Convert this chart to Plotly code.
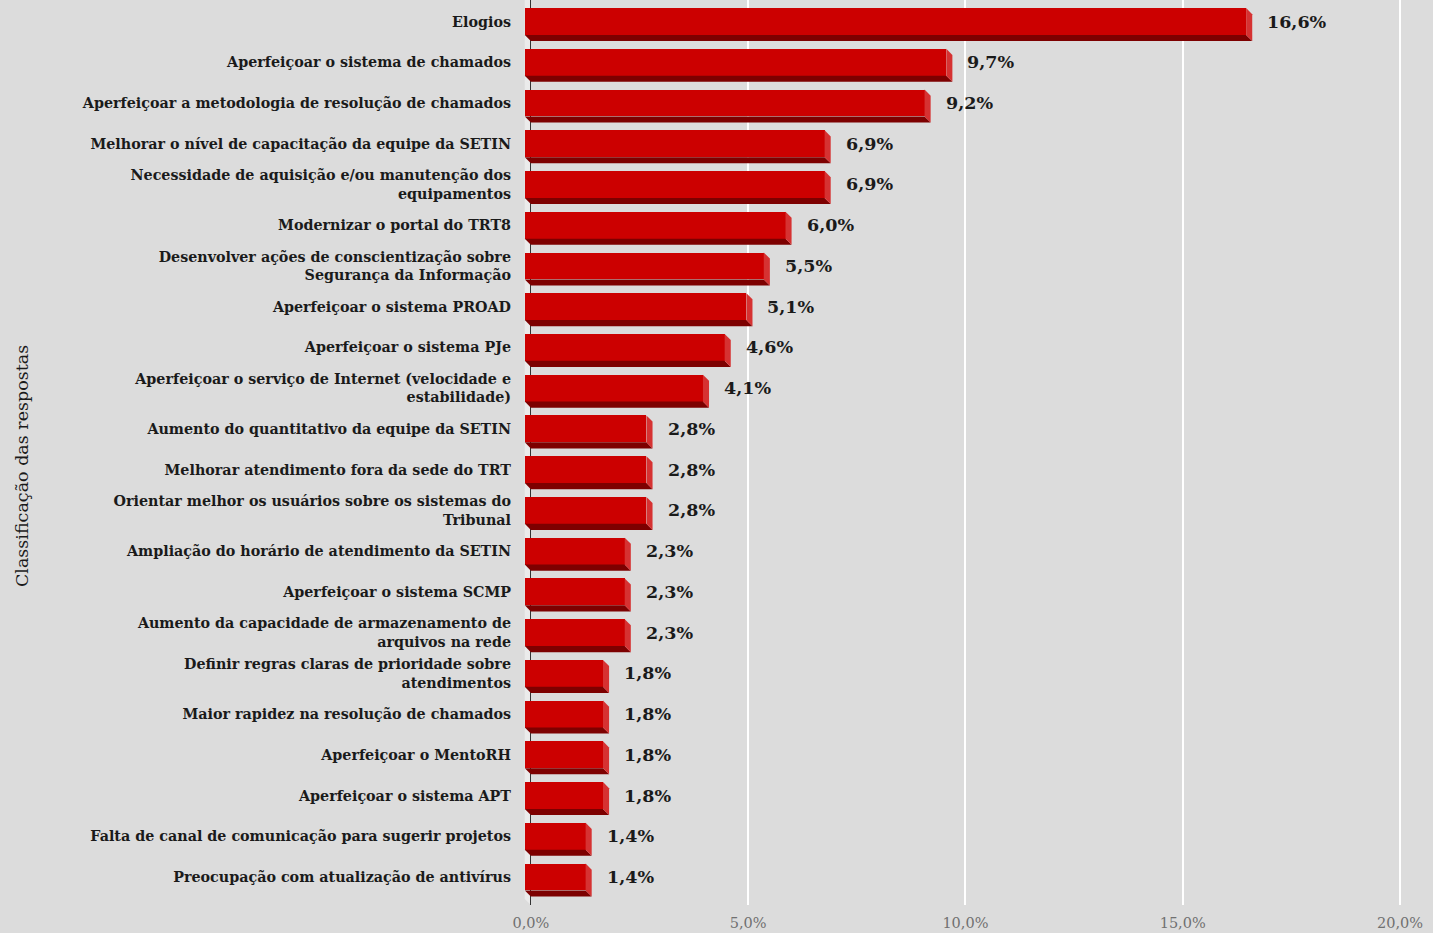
import plotly.graph_objects as go

# Response categories (top to bottom) and their share of responses (%)
categories = [
    "Elogios",
    "Aperfeiçoar o sistema de chamados",
    "Aperfeiçoar a metodologia de resolução de chamados",
    "Melhorar o nível de capacitação da equipe da SETIN",
    "Necessidade de aquisição e/ou manutenção dos<br>equipamentos",
    "Modernizar o portal do TRT8",
    "Desenvolver ações de conscientização sobre<br>Segurança da Informação",
    "Aperfeiçoar o sistema PROAD",
    "Aperfeiçoar o sistema PJe",
    "Aperfeiçoar o serviço de Internet (velocidade e<br>estabilidade)",
    "Aumento do quantitativo da equipe da SETIN",
    "Melhorar atendimento fora da sede do TRT",
    "Orientar melhor os usuários sobre os sistemas do<br>Tribunal",
    "Ampliação do horário de atendimento da SETIN",
    "Aperfeiçoar o sistema SCMP",
    "Aumento da capacidade de armazenamento de<br>arquivos na rede",
    "Definir regras claras de prioridade sobre<br>atendimentos",
    "Maior rapidez na resolução de chamados",
    "Aperfeiçoar o MentoRH",
    "Aperfeiçoar o sistema APT",
    "Falta de canal de comunicação para sugerir projetos",
    "Preocupação com atualização de antivírus",
]
values = [16.6, 9.7, 9.2, 6.9, 6.9, 6.0, 5.5, 5.1, 4.6, 4.1, 2.8, 2.8, 2.8,
          2.3, 2.3, 2.3, 1.8, 1.8, 1.8, 1.8, 1.4, 1.4]
x_ticks = [0, 5, 10, 15, 20]
x_tick_text = ["0,0%", "5,0%", "10,0%", "15,0%", "20,0%"]

FRONT = "#cc0000"
BOTTOM = "#7d0000"
SIDE = "#d63232"
BG = "#dcdcdc"
WALL = "#ebebeb"
TEXT = "#1a1a1a"
SERIF = "DejaVu Serif"

# 3D extrusion depth in data units
DX = 0.14   # along x (percent)
DY = 0.15   # along y (category units)
H = 0.66    # bar thickness

idx = list(range(len(values)))
y_top, y_bot = -0.528, 21.687

fig = go.Figure()
fig.add_trace(go.Bar(
    orientation="h",
    y=idx,
    x=values,
    base=[-DX] * len(values),
    width=H,
    marker=dict(color=FRONT, line=dict(width=0)),
    hoverinfo="skip",
))

shapes = []
# left wall of the 3D frame
shapes.append(dict(
    type="path", xref="x", yref="y", layer="below",
    path=f"M {-DX} {y_top} L 0 {y_top} L 0 {y_bot} L {-DX} {y_bot - DY} Z",
    fillcolor=WALL, line=dict(width=0),
))
for i, v in zip(idx, values):
    top, bot = i - H / 2, i + H / 2
    # bottom face
    shapes.append(dict(
        type="path", xref="x", yref="y",
        path=f"M {-DX} {bot} L {v - DX} {bot} L {v} {bot + DY} L 0 {bot + DY} Z",
        fillcolor=BOTTOM, line=dict(width=0),
    ))
    # right face
    shapes.append(dict(
        type="path", xref="x", yref="y",
        path=f"M {v - DX} {top} L {v} {top + DY} L {v} {bot + DY} L {v - DX} {bot} Z",
        fillcolor=SIDE, line=dict(width=0),
    ))

annotations = [
    dict(x=v, y=i, xref="x", yref="y", text=f"{v:.1f}".replace(".", ",") + "%",
         showarrow=False, xanchor="left", yanchor="middle", xshift=13,
         font=dict(family=SERIF, size=17.5, color=TEXT, weight="bold"))
    for i, v in zip(idx, values)
]
# y-axis title
annotations.append(dict(
    x=-0.5577, y=0.485, xref="paper", yref="paper",
    text="Classificação das respostas", textangle=-90,
    showarrow=False, xanchor="center", yanchor="middle",
    font=dict(family=SERIF, size=17.5, color=TEXT),
))

fig.update_layout(
    width=1433, height=933,
    margin=dict(l=520, r=20, t=0, b=28),
    paper_bgcolor=BG, plot_bgcolor=BG,
    showlegend=False,
    bargap=0,
    shapes=shapes,
    annotations=annotations,
    xaxis=dict(
        range=[-0.25, 20.3],
        tickvals=x_ticks, ticktext=x_tick_text,
        showgrid=True, gridcolor="#ffffff", gridwidth=1.5,
        zeroline=True, zerolinecolor="#333333", zerolinewidth=1.2,
        showline=False, ticks="",
        ticklabelstandoff=7,
        tickfont=dict(family=SERIF, size=14.5, color="#707070"),
        fixedrange=True,
    ),
    yaxis=dict(
        range=[y_bot, y_top],
        tickvals=idx, ticktext=categories,
        showgrid=False, zeroline=False, showline=False, ticks="",
        ticklabelstandoff=8,
        tickfont=dict(family=SERIF, size=14.3, color=TEXT, weight="bold"),
        fixedrange=True,
    ),
)

fig.write_html("out.html")
